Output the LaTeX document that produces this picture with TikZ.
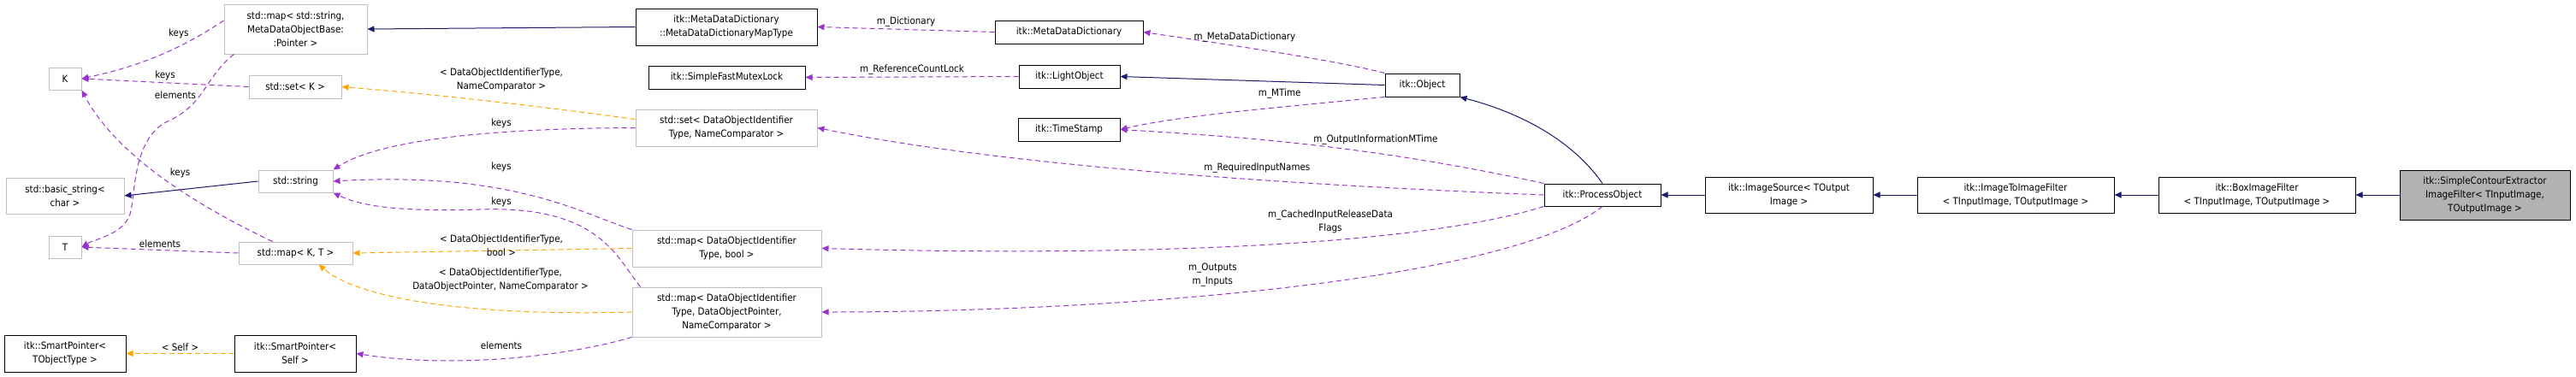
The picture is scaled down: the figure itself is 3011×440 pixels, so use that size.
\documentclass[tikz,border=0pt]{standalone}
\usepackage{fontspec}
\setmainfont{DejaVu Sans Condensed}
\usetikzlibrary{arrows.meta}
\definecolor{navy}{HTML}{191970}
\definecolor{usep}{HTML}{9A32CD}
\definecolor{tmpl}{HTML}{FFA500}
\definecolor{grayb}{HTML}{BFBFBF}
\begin{document}
\begin{tikzpicture}[x=1pt,y=-1pt,
  every node/.style={font=\fontsize{11.5}{16}\selectfont},
  box/.style={draw=black,line width=1pt,fill=white,align=center,inner sep=0pt},
  gbox/.style={box,draw=grayb},
  hbox/.style={box,fill=black!30},
  inh/.style={draw=navy,line width=1pt,-{Triangle[length=8pt,width=7pt]}},
  use/.style={draw=usep,line width=1pt,dash pattern=on 6pt off 4pt,-{Triangle[length=8pt,width=7pt]}},
  tpl/.style={draw=tmpl,line width=1pt,dash pattern=on 6pt off 4pt,-{Triangle[length=8pt,width=7pt]}},
  lbl/.style={align=center,fill=none}]
\useasboundingbox (0,0) rectangle (3011,440);
\def\bx#1#2#3#4#5#6#7{\node[#1,minimum width=#4-#3,minimum height=#6-#5] (#2) at ({(#3+#4)/2},{(#5+#6)/2}) {#7};}
\bx{gbox}{mapMeta}{262}{429}{5}{63}{std::map< std::string,\\ MetaDataObjectBase:\\:Pointer >}
\bx{gbox}{K}{57}{95}{79}{105}{K}
\bx{gbox}{setK}{291}{399}{88}{115}{std::set< K >}
\bx{gbox}{bstr}{7}{145}{208}{250}{std::basic\_string<\\ char >}
\bx{gbox}{str}{302}{389}{199}{225}{std::string}
\bx{gbox}{T}{57}{95}{276}{302}{T}
\bx{gbox}{mapKT}{279}{412}{283}{309}{std::map< K, T >}
\bx{box}{SPT}{5}{147}{392}{435}{itk::SmartPointer<\\ TObjectType >}
\bx{box}{SPS}{274}{416}{392}{435}{itk::SmartPointer<\\ Self >}
\bx{box}{MDDM}{743}{955}{10}{53}{itk::MetaDataDictionary\\ ::MetaDataDictionaryMapType}
\bx{box}{SFML}{758}{941}{77}{104}{itk::SimpleFastMutexLock}
\bx{gbox}{setD}{743}{955}{128}{171}{std::set< DataObjectIdentifier\\ Type, NameComparator >}
\bx{box}{MDD}{1163}{1336}{24}{51}{itk::MetaDataDictionary}
\bx{box}{LO}{1191}{1309}{76}{103}{itk::LightObject}
\bx{box}{TS}{1190}{1309}{138}{165}{itk::TimeStamp}
\bx{gbox}{mapB}{739}{960}{269}{312}{std::map< DataObjectIdentifier\\ Type, bool >}
\bx{gbox}{mapP}{739}{960}{336}{394}{std::map< DataObjectIdentifier\\ Type, DataObjectPointer,\\ NameComparator >}
\bx{box}{Obj}{1619}{1706}{86}{113}{itk::Object}
\bx{box}{PO}{1805}{1941}{215}{241}{itk::ProcessObject}
\bx{box}{IS}{1993}{2189}{207}{249}{itk::ImageSource< TOutput\\ Image >}
\bx{box}{ITI}{2241}{2471}{207}{249}{itk::ImageToImageFilter\\ < TInputImage, TOutputImage >}
\bx{box}{BIF}{2523}{2753}{207}{249}{itk::BoxImageFilter\\ < TInputImage, TOutputImage >}
\bx{hbox}{SCE}{2805}{3004}{199}{257}{itk::SimpleContourExtractor\\ImageFilter< TInputImage,\\ TOutputImage >}
% inheritance
\draw[inh] (MDDM.west) -- (mapMeta.east);
\draw[inh] (Obj.west) -- (LO.east);
\draw[inh] (PO.north) .. controls (1835,160) and (1770,130) .. (Obj.south east);
\draw[inh] (IS.west) -- (PO.east);
\draw[inh] (ITI.west) -- (IS.east);
\draw[inh] (BIF.west) -- (ITI.east);
\draw[inh] (SCE.west |- BIF.east) -- (BIF.east);
\draw[inh] (str.west) -- (bstr.east);
% usage
\draw[use] (MDD.west) -- (MDDM.east) node[lbl,midway,above=-1pt] {m\_Dictionary};
\draw[use] (Obj.north west) .. controls (1560,70) and (1420,50) .. (MDD.east) node[lbl,pos=0.6,above=2pt] {m\_MetaDataDictionary};
\draw[use] (LO.west) -- (SFML.east) node[lbl,midway,above=-1pt] {m\_ReferenceCountLock};
\draw[use] (Obj.south west) .. controls (1500,125) and (1380,135) .. (TS.east) node[lbl,pos=0.35,above=6pt] {m\_MTime};
\draw[use] (PO.north west) .. controls (1600,170) and (1450,160) .. (TS.east) node[lbl,pos=0.35,above=6pt] {m\_OutputInformationMTime};
\draw[use] (PO.west) .. controls (1600,220) and (1200,200) .. (setD.east) node[lbl,pos=0.42,above=4pt] {m\_RequiredInputNames};
\draw[use] (PO.south west) .. controls (1650,290) and (1300,300) .. (mapB.east) node[lbl,pos=0.38,above=4pt] {m\_CachedInputReleaseData\\Flags};
\draw[use] (PO.south) .. controls (1760,330) and (1300,365) .. (mapP.east) node[lbl,pos=0.58,above=6pt] {m\_Outputs\\m\_Inputs};
\draw[use] ([yshift=10pt]mapMeta.west) .. controls (200,65) and (150,80) .. (K.east) node[lbl,pos=0.3,above=6pt] {keys};
\draw[use] (setK.west) -- (K.east) node[lbl,midway,above=-1pt] {keys};
\draw[use] ([xshift=40pt]mapKT.north west) .. controls (250,250) and (140,190) .. (K.south east) node[lbl,pos=0.45,above=10pt] {keys};
\draw[use] (mapKT.west) -- (T.east) node[lbl,midway,above=-1pt] {elements};
\draw[use] ([xshift=12pt]mapMeta.south west) .. controls (240,90) and (240,120) .. (200,140) .. controls (150,160) and (160,240) .. (150,255) .. controls (140,275) and (110,280) .. (T.east);
\node[lbl] (lelem) at (205,111) {elements};
\draw[use] (setD.west) .. controls (600,150) and (450,160) .. (str.north east);
\node[lbl] at (586,144) {keys};
\draw[use] (mapB.north west) .. controls (680,250) and (600,200) .. (str.east);
\node[lbl] at (586,195) {keys};
\draw[use] ([xshift=10pt]mapP.north west) .. controls (720,300) and (700,240) .. (560,245) .. controls (460,248) and (420,240) .. (str.south east);
\node[lbl] at (586,236) {keys};
\draw[use] (mapP.south west) .. controls (650,420) and (520,430) .. (SPS.east);
\node[lbl] at (586,404) {elements};
% template
\draw[tpl] ([yshift=10pt]setD.west) .. controls (600,120) and (480,108) .. (setK.east);
\node[lbl] at (586,93) {< DataObjectIdentifierType,\\NameComparator >};
\draw[tpl] (mapB.west) -- (mapKT.east);
\node[lbl] at (586,287) {< DataObjectIdentifierType,\\bool >};
\draw[tpl] (mapP.west) .. controls (550,370) and (420,350) .. ([xshift=-40pt]mapKT.south east);
\node[lbl] at (585,327) {< DataObjectIdentifierType,\\DataObjectPointer, NameComparator >};
\draw[tpl] (SPS.west) -- (SPT.east) node[lbl,midway,above=-1pt] {< Self >};
\end{tikzpicture}
\end{document}
